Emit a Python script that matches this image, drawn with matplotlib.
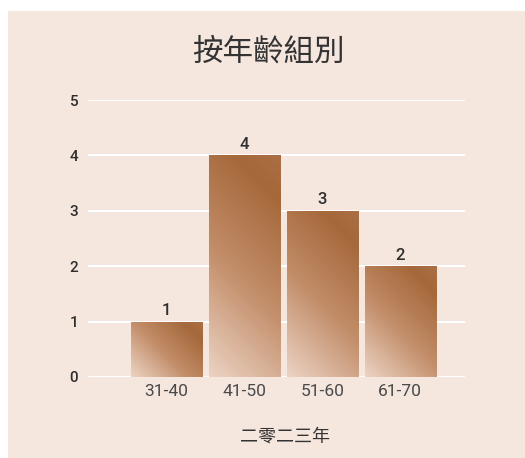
import numpy as np
import matplotlib
matplotlib.use("Agg")
import matplotlib.pyplot as plt
from matplotlib.patches import Rectangle
from matplotlib.colors import LinearSegmentedColormap

categories = ["31-40", "41-50", "51-60", "61-70"]
values = [1, 4, 3, 2]
yticks = [0, 1, 2, 3, 4, 5]
title = "按年齡組別"
xlabel = "二零二三年"

BG = "#F5E6DE"
LAT = ["Roboto", "DejaVu Sans"]
CJK = ["Noto Sans CJK TC", "DejaVu Sans"]

fig = plt.figure(figsize=(5.25, 4.58), dpi=100)
fig.patch.set_facecolor("white")
fig.patches.append(Rectangle((8 / 525, 0), 1, (458 - 11) / 458, transform=fig.transFigure,
                             facecolor=BG, edgecolor="none", zorder=-10))

ax = fig.add_axes([88 / 525, 1 - 377 / 458, (465 - 88) / 525, (377 - 100) / 458])
ax.set_zorder(1)
ax.set_facecolor("none")
ax.set_xlim(0, 4.83)
ax.set_ylim(0, 5)
for s in ax.spines.values():
    s.set_visible(False)
ax.set_yticks(yticks)
ax.set_yticklabels([str(v) for v in yticks], family=LAT, fontsize=11, color="#2e2e2e", fontweight="medium")
pos = np.arange(1, len(categories) + 1)
ax.set_xticks(pos)
ax.set_xticklabels(categories, family=LAT, fontsize=12.5, color="#4a4a4a")
ax.tick_params(axis="both", length=0)
ax.tick_params(axis="y", pad=7)
ax.tick_params(axis="x", pad=5)
ax.grid(axis="y", color="white", linewidth=1.5, zorder=0)
ax.set_axisbelow(True)

cmap = LinearSegmentedColormap.from_list(
    "g", [(0, "#ECD3C3"), (0.45, "#C28D69"), (0.85, "#A5683A"), (1.0, "#AB6F45")])

bars = ax.bar(pos, values, width=0.91, color="none", edgecolor="none", zorder=2)
fig.canvas.draw()
for b in bars:
    x0, y0 = b.get_x(), b.get_y()
    w, h = b.get_width(), b.get_height()
    p0 = ax.transData.transform((x0, y0))
    p1 = ax.transData.transform((x0 + w, y0 + h))
    wp, hp = int(round(p1[0] - p0[0])), int(round(p1[1] - p0[1]))
    xs = np.arange(wp)[None, :]
    ys = np.arange(hp)[::-1][:, None]
    t = (xs + ys) / float(wp + hp - 2)
    im = ax.imshow(t, cmap=cmap, vmin=0, vmax=1, extent=(x0, x0 + w, y0, y0 + h),
                   aspect="auto", origin="upper", zorder=2, interpolation="bilinear")
    im.set_clip_path(b)
    ax.text(b.get_x() + w / 2, h + 0.06, str(int(h)), ha="center", va="bottom",
            family=LAT, fontsize=12, color="#2e2e2e", fontweight="medium", zorder=3)
ax.set_xlim(0, 4.83)
ax.set_ylim(0, 5)

fig.text(268 / 525, 1 - 52 / 458, title, ha="center", va="center", family=CJK,
         fontsize=22, color="#333333", fontweight="medium")
fig.text(285 / 525, 1 - 437 / 458, xlabel, ha="center", va="center", family=CJK,
         fontsize=13, color="#333333")

fig.savefig("out.png", dpi=100, facecolor=fig.get_facecolor())
